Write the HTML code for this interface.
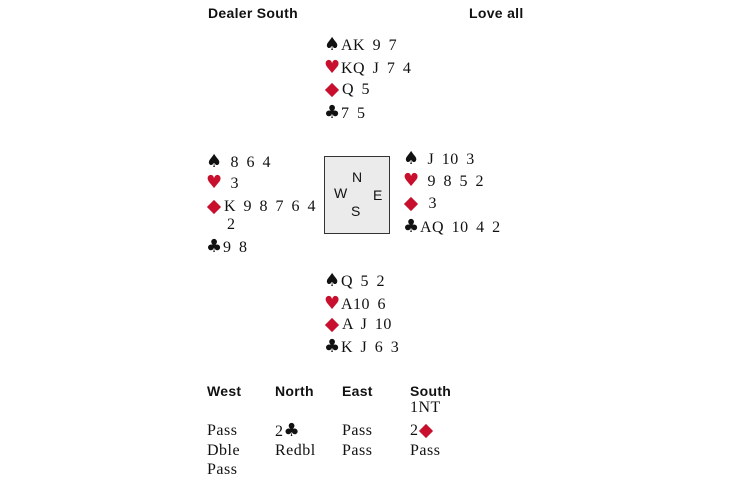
<!DOCTYPE html>
<html><head><style>
body{margin:0;width:730px;height:486px;background:#fff;position:relative;overflow:hidden;font-family:"Liberation Serif",serif;font-size:16px;color:#111}
.a{position:absolute;white-space:pre;line-height:18px;word-spacing:3px;letter-spacing:0.5px}
.h{font-family:"Liberation Sans",sans-serif;font-weight:bold;font-size:14px;letter-spacing:0.3px;word-spacing:0}
.s{font-family:"DejaVu Sans",sans-serif;font-size:18px;display:inline-block;width:17px;letter-spacing:0}
.r{color:#c8102e}
.d{display:inline-block;width:10px;height:10px;background:#c8102e;transform:rotate(45deg);margin:0 5px 1px 3px;vertical-align:middle}
.box{position:absolute;left:324px;top:156px;width:64px;height:76px;background:#ebebeb;border:1px solid #333}
.c{position:absolute;font-family:"Liberation Sans",sans-serif;font-size:14px}
</style></head><body>
<div class="a h" style="left:208px;top:4px">Dealer South</div>
<div class="a h" style="left:469px;top:4px">Love all</div>

<div class="a" style="left:324px;top:36px"><span class="s">♠</span>AK 9 7</div>
<div class="a" style="left:324px;top:59px"><span class="s r">♥</span>KQ J 7 4</div>
<div class="a" style="left:324px;top:81px"><span class="d"></span>Q 5</div>
<div class="a" style="left:324px;top:104px"><span class="s">♣</span>7 5</div>

<div class="a" style="left:206px;top:153px"><span class="s">♠</span> 8 6 4</div>
<div class="a" style="left:206px;top:174px"><span class="s r">♥</span> 3</div>
<div class="a" style="left:206px;top:198px"><span class="d"></span>K 9 8 7 6 4</div>
<div class="a" style="left:227px;top:216px">2</div>
<div class="a" style="left:206px;top:238px"><span class="s">♣</span>9 8</div>

<div class="box"></div>
<div class="c" style="left:352px;top:169px">N</div>
<div class="c" style="left:334px;top:185px">W</div>
<div class="c" style="left:373px;top:187px">E</div>
<div class="c" style="left:351px;top:203px">S</div>

<div class="a" style="left:403px;top:150px"><span class="s">♠</span> J 10 3</div>
<div class="a" style="left:403px;top:172px"><span class="s r">♥</span> 9 8 5 2</div>
<div class="a" style="left:403px;top:195px"><span class="d"></span> 3</div>
<div class="a" style="left:403px;top:218px"><span class="s">♣</span>AQ 10 4 2</div>

<div class="a" style="left:324px;top:272px"><span class="s">♠</span>Q 5 2</div>
<div class="a" style="left:324px;top:295px"><span class="s r">♥</span>A10 6</div>
<div class="a" style="left:324px;top:316px"><span class="d"></span>A J 10</div>
<div class="a" style="left:324px;top:338px"><span class="s">♣</span>K J 6 3</div>

<div class="a h" style="left:207px;top:382px">West</div>
<div class="a h" style="left:275px;top:382px">North</div>
<div class="a h" style="left:342px;top:382px">East</div>
<div class="a h" style="left:410px;top:382px">South</div>
<div class="a" style="left:410px;top:399px">1NT</div>
<div class="a" style="left:207px;top:422px">Pass</div>
<div class="a" style="left:275px;top:422px">2<span class="s">♣</span></div>
<div class="a" style="left:342px;top:422px">Pass</div>
<div class="a" style="left:410px;top:422px">2<span class="d" style="margin-left:2px"></span></div>
<div class="a" style="left:207px;top:442px">Dble</div>
<div class="a" style="left:275px;top:442px">Redbl</div>
<div class="a" style="left:342px;top:442px">Pass</div>
<div class="a" style="left:410px;top:442px">Pass</div>
<div class="a" style="left:207px;top:461px">Pass</div>
</body></html>
